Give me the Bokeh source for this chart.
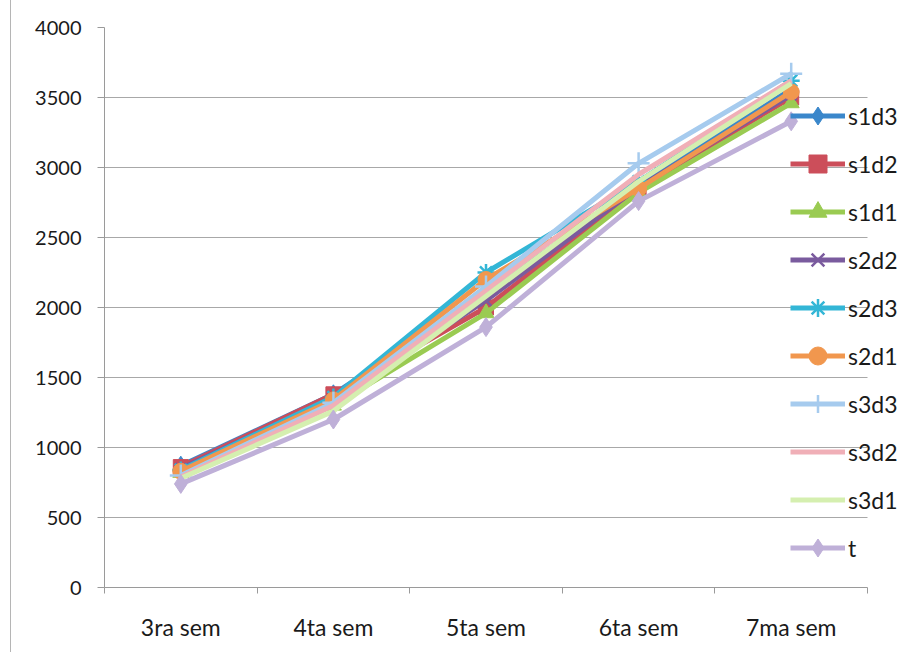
from bokeh.plotting import figure
from bokeh.models import FixedTicker, Legend, LegendItem, Range1d
from bokeh.embed import file_html
from bokeh.resources import INLINE

categories = ["3ra sem", "4ta sem", "5ta sem", "6ta sem", "7ma sem"]
series_names = ["s1d3", "s1d2", "s1d1", "s2d2", "s2d3", "s2d1", "s3d3", "s3d2", "s3d1", "t"]

s1d3 = [870, 1380, 2100, 2870, 3560]
s1d2 = [860, 1380, 2000, 2850, 3500]
s1d1 = [820, 1300, 1960, 2820, 3460]
s2d2 = [850, 1350, 2050, 2860, 3520]
s2d3 = [840, 1360, 2250, 2900, 3620]
s2d1 = [830, 1340, 2200, 2850, 3540]
s3d3 = [800, 1320, 2150, 3030, 3670]
s3d2 = [790, 1300, 2120, 2950, 3620]
s3d1 = [780, 1260, 2080, 2900, 3600]
t = [740, 1200, 1860, 2760, 3330]

y_ticks = [0, 500, 1000, 1500, 2000, 2500, 3000, 3500, 4000]

series_values = [s1d3, s1d2, s1d1, s2d2, s2d3, s2d1, s3d3, s3d2, s3d1, t]
colors = ["#3A87CB", "#CC4E5A", "#9ACB52", "#7A5B9E", "#33B6D6",
          "#F1974E", "#A6CBEE", "#F0AFB7", "#D5EFB0", "#BFB0D8"]
markers = ["diamond", "square", "triangle", "x", "asterisk",
           "circle", "cross", None, None, "diamond"]
msizes = [19, 15, 16, 15, 17, 16, 22, 0, 0, 19]

FONT = "Lato"
n = len(categories)
xs = [i + 0.5 for i in range(n)]

# frame: x from 104 to 910 on screen; categories 0..n map to 104..867
x_end = n * (910 - 104) / (867 - 104)

p = figure(width=910, height=652, output_backend="svg", toolbar_location=None,
           x_range=Range1d(0, x_end), y_range=Range1d(0, 4000),
           min_border_left=93, min_border_right=11, min_border_top=27,
           min_border_bottom=65,
           styles={"margin-left": "10px", "border-left": "1px solid #b5b5b5"})
p.outline_line_color = None
p.background_fill_color = "white"
p.border_fill_color = "white"

# x axis: category labels at centers, boundary ticks as minor ticks
p.xaxis.ticker = FixedTicker(ticks=xs, minor_ticks=list(range(n + 1)))
p.xaxis.major_label_overrides = {x: c for x, c in zip(xs, categories)}
p.xaxis.bounds = (0, n)
p.xaxis.major_tick_out = 0
p.xaxis.major_tick_in = 0
p.xaxis.minor_tick_out = 6
p.xaxis.minor_tick_in = 0
p.xaxis.minor_tick_line_color = "#9a9a9a"
p.xaxis.axis_line_color = "#9a9a9a"
p.xaxis.major_label_standoff = 19
p.xaxis.major_label_text_font = FONT
p.xaxis.major_label_text_font_size = "23px"
p.xaxis.major_label_text_color = "#1a1a1a"
p.xgrid.grid_line_color = None

p.yaxis.ticker = FixedTicker(ticks=y_ticks)
p.yaxis.major_tick_out = 7
p.yaxis.major_tick_in = 0
p.yaxis.minor_tick_line_color = None
p.yaxis.major_tick_line_color = "#9a9a9a"
p.yaxis.axis_line_color = "#9a9a9a"
p.yaxis.major_label_standoff = 16
p.yaxis.major_label_text_font = FONT
p.yaxis.major_label_text_font_size = "20px"
p.yaxis.major_label_text_color = "#1a1a1a"
p.ygrid.grid_line_color = "#a8a8a8"
p.ygrid.grid_line_width = 1
p.ygrid.cross_bounds = (0, n)

items = []
for name, vals, col, mk, ms in zip(series_names, series_values, colors, markers, msizes):
    rs = [p.line(xs, vals, line_color=col, line_width=5, line_join="round")]
    if mk is not None:
        if mk in ("x", "asterisk", "cross"):
            rs.append(p.scatter(xs, vals, marker=mk, size=ms, line_color=col,
                                line_width=2.5, fill_color=col))
        else:
            rs.append(p.scatter(xs, vals, marker=mk, size=ms, line_color=col,
                                fill_color=col))
    items.append(LegendItem(label=name, renderers=rs))

legend = Legend(items=items, location=(686, 17), orientation="vertical",
                glyph_width=55, glyph_height=45, label_height=20, spacing=3,
                padding=0, margin=0, label_standoff=3,
                border_line_color=None, background_fill_alpha=0,
                label_text_font=FONT, label_text_font_size="23px",
                label_text_color="#1a1a1a")
p.add_layout(legend, "center")

open("out.html", "w").write(file_html(p, INLINE))
